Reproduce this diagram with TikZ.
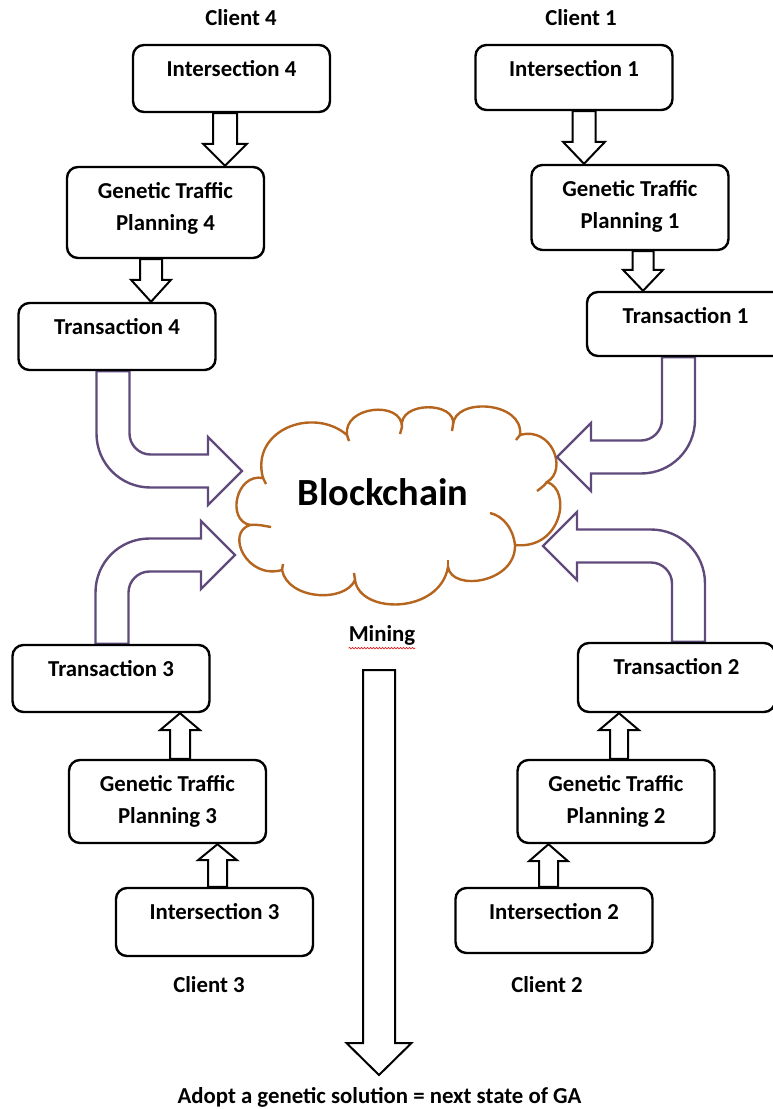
\documentclass[tikz,border=0pt]{standalone}
\usepackage{fontspec}
\setmainfont{Carlito}
\usetikzlibrary{
    calc,
    positioning,
    backgrounds,
    decorations.pathmorphing
}
\definecolor{flowpurple}{HTML}{604A7B}
\definecolor{cloudbrown}{HTML}{B5651D}
\definecolor{squiggle}{HTML}{E02020}

\tikzset{
    box/.style = {
        draw,
        line width = 2.4pt,
        rounded corners = 11pt,
        fill = white,
        minimum width = 197pt,
        inner sep = 0pt
    },
    lbl/.style = {
        font = \fontsize{22.8}{32}\selectfont\bfseries,
        align = center,
        inner sep = 0pt
    },
    inlbl/.style = {
        lbl,
        anchor = north,
        yshift = -16pt
    },
    hollow/.style = {
        draw,
        line width = 2pt,
        fill = white,
        line join = miter
    },
    bent/.style = {
        draw = flowpurple,
        line width = 2.4pt,
        fill = white
    },
    cloudline/.style = {
        draw = cloudbrown,
        line width = 2.4pt
    }
}

% block arrow: start, tip, half shaft, half head, head length
\newcommand{\hollowarrow}[5]{%
    \draw[hollow] let \p1=(#1), \p2=(#2), \p3=($(#2)!#5!(#1)$) in
        (\x1-#3,\y1) -- (\x1-#3,\y3) -- (\x1-#4,\y3) -- (\x2,\y2)
        -- (\x1+#4,\y3) -- (\x1+#3,\y3) -- (\x1+#3,\y1) -- cycle;}

% bent arrow: start, tip, x sign, y sign
\newcommand{\bentarrow}[4]{%
    \draw[bent] let \p1=(#1), \p2=(#2) in
        ({\x1-(#3)*16.5pt},\y1)
        -- ({\x1-(#3)*16.5pt},{\y2+(#4)*16.5pt-(#4)*54pt})
        .. controls ({\x1-(#3)*16.5pt},{\y2+(#4)*16.5pt-(#4)*24pt})
                and ({\x1-(#3)*16.5pt+(#3)*24pt},{\y2+(#4)*16.5pt}) ..
        ({\x1-(#3)*16.5pt+(#3)*54pt},{\y2+(#4)*16.5pt})
        -- ({\x2-(#3)*34pt},{\y2+(#4)*16.5pt})
        -- ({\x2-(#3)*34pt},{\y2+(#4)*34pt})
        -- (\x2,\y2)
        -- ({\x2-(#3)*34pt},{\y2-(#4)*34pt})
        -- ({\x2-(#3)*34pt},{\y2-(#4)*16.5pt})
        -- ({\x1+(#3)*37.5pt},{\y2-(#4)*16.5pt})
        .. controls ({\x1+(#3)*26pt},{\y2-(#4)*16.5pt})
                and ({\x1+(#3)*16.5pt},{\y2-(#4)*26pt}) ..
        ({\x1+(#3)*16.5pt},{\y2-(#4)*37.5pt})
        -- ({\x1+(#3)*16.5pt},\y1) -- cycle;}

\begin{document}
\begin{tikzpicture}[x=1pt, y=-1pt]
    \useasboundingbox (0,0) rectangle (772,1109);

    % clients 4 and 1
    \node[lbl] (client4) at (241,18) {Client 4};
    \node[lbl] (client1) at (581,18) {Client 1};

    \node[box, minimum height=67pt, label={[inlbl]north:Intersection 4}] (int4) at (231.5,78.5) {};
    \node[box, minimum height=91pt, label={[inlbl]north:{Genetic Traffic\\Planning 4}}] (gtp4) at (165.5,212.5) {};
    \node[box, minimum height=67pt, label={[inlbl]north:Transaction 4}] (trans4) at (117,336.5) {};

    \node[box, minimum height=65pt, label={[inlbl]north:Intersection 1}] (int1) at (574,77.5) {};
    \node[box, minimum height=85pt, label={[inlbl]north:{Genetic Traffic\\Planning 1}}] (gtp1) at (630,207.5) {};
    \node[box, minimum height=64pt, label={[inlbl]north:Transaction 1}] (trans1) at (685.5,324) {};

    % clients 3 and 2
    \node[box, minimum height=67pt, label={[inlbl]north:Transaction 3}] (trans3) at (111,678.5) {};
    \node[box, minimum height=83pt, label={[inlbl]north:{Genetic Traffic\\Planning 3}}] (gtp3) at (167.5,801.5) {};
    \node[box, minimum height=68pt, label={[inlbl]north:Intersection 3}] (int3) at (214.5,922) {};

    \node[box, minimum height=69pt, label={[inlbl]north:Transaction 2}] (trans2) at (676.5,677.5) {};
    \node[box, minimum height=83pt, label={[inlbl]north:{Genetic Traffic\\Planning 2}}] (gtp2) at (616,801.5) {};
    \node[box, minimum height=65pt, label={[inlbl]north:Intersection 2}] (int2) at (554,920.5) {};

    \node[lbl] (client3) at (209,985) {Client 3};
    \node[lbl] (client2) at (547,985) {Client 2};

    % blockchain
    \node[font=\fontsize{38.4}{40}\selectfont\bfseries] (chaintxt) at (383,492) {Blockchain};

    \node[lbl] (mining) at (382,635) {Mining};
    \draw[squiggle, line width=0.6pt, decorate, decoration={snake, amplitude=0.8pt, segment length=3pt}]
        ($(mining.south west)+(0,3)$) -- ($(mining.south east)+(0,3)$);
    \node[lbl] (adopt) at (379.5,1097) {Adopt a genetic solution = next state of GA};

    \coordinate (minestart) at (379,670);
    \coordinate (mineend) at (379,1075);

    \coordinate (in4) at (242,471);
    \coordinate (in1) at (557,457);
    \coordinate (in3) at (235,555);
    \coordinate (in2) at (543,546);

    \begin{scope}[on background layer]
        \draw[cloudline, fill=white] (263,478)
            .. controls (250,430) and (313,406) .. (347,435)
            .. controls (343,406) and (402,400) .. (402,427)
            .. controls (398,401) and (457,401) .. (453,425)
            .. controls (454,397) and (524,401) .. (520,435)
            .. controls (552,426) and (568,470) .. (547,482)
            .. controls (572,490) and (562,550) .. (515,545)
            .. controls (516,583) and (452,592) .. (448,567)
            .. controls (440,614) and (360,615) .. (355,580)
            .. controls (345,603) and (288,600) .. (282,570)
            .. controls (247,580) and (225,533) .. (250,525)
            .. controls (226,520) and (236,473) .. (263,478) -- cycle;
        \draw[cloudline] (250,525) .. controls (258,524) and (264,526) .. (271,527);
        \draw[cloudline] (547,482) .. controls (544,486) and (541,488) .. (537,491);
        \draw[cloudline] (515,545) .. controls (513,528) and (503,516) .. (490,513);
        \draw[cloudline] (347,435) -- (349,441);
        \draw[cloudline] (402,427) -- (400,434);
        \draw[cloudline] (453,425) -- (452,431);
        \draw[cloudline] (520,435) -- (516,440);
        \draw[cloudline] (448,567) -- (448,560);
        \draw[cloudline] (355,580) -- (354,573);
        \draw[cloudline] (282,570) -- (283,564);
        \draw[cloudline] (263,478) -- (266,484);

        \bentarrow{113,0 |- trans4.south}{in4}{1}{-1}
        \bentarrow{678.5,0 |- trans1.south}{in1}{-1}{-1}
        \bentarrow{112,0 |- trans3.north}{in3}{1}{1}
        \bentarrow{688.5,0 |- trans2.north}{in2}{-1}{1}
    \end{scope}

    \hollowarrow{225,0 |- int4.south}{225,0 |- gtp4.north}{12pt}{22pt}{22pt}
    \hollowarrow{151,0 |- gtp4.south}{151,0 |- trans4.north}{11pt}{20pt}{22pt}
    \hollowarrow{584,0 |- int1.south}{584,0 |- gtp1.north}{11.5pt}{21pt}{22pt}
    \hollowarrow{643,0 |- gtp1.south}{643,0 |- trans1.north}{10.5pt}{20pt}{21pt}
    \hollowarrow{180,0 |- gtp3.north}{180,0 |- trans3.south}{10pt}{20pt}{17pt}
    \hollowarrow{217.5,0 |- int3.north}{217.5,0 |- gtp3.south}{9.5pt}{19.5pt}{16pt}
    \hollowarrow{619,0 |- gtp2.north}{619,0 |- trans2.south}{9pt}{20pt}{17pt}
    \hollowarrow{548.5,0 |- int2.north}{548.5,0 |- gtp2.south}{9.5pt}{19.5pt}{17pt}
    \hollowarrow{minestart}{mineend}{16pt}{32.5pt}{32pt}
\end{tikzpicture}
\end{document}
